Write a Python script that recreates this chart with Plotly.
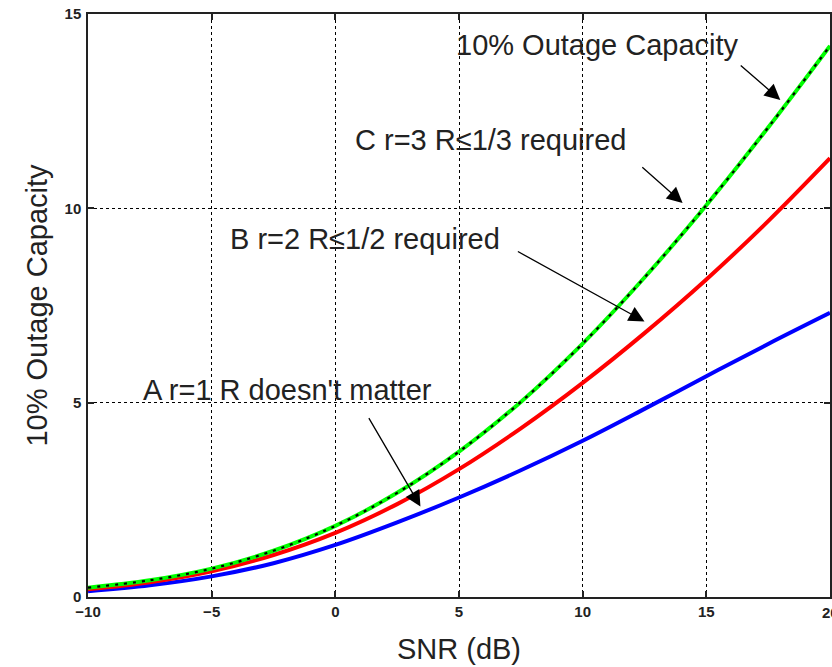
import plotly.graph_objects as go

snr_db = [-10, -7.5, -5, -2.5, 0, 2.5, 5, 7.5, 10, 12.5, 15, 17.5, 20]
cap_r1 = [0.15, 0.30, 0.53, 0.87, 1.34, 1.92, 2.56, 3.26, 4.02, 4.84, 5.68, 6.51, 7.31]
cap_r2 = [0.20, 0.38, 0.66, 1.08, 1.65, 2.39, 3.29, 4.34, 5.51, 6.79, 8.17, 9.67, 11.29]
cap_r3 = [0.24, 0.43, 0.73, 1.19, 1.83, 2.68, 3.74, 5.02, 6.52, 8.22, 10.08, 12.08, 14.18]
outage_10pct = [0.24, 0.43, 0.73, 1.19, 1.83, 2.68, 3.74, 5.02, 6.52, 8.22, 10.08, 12.08, 14.18]

x_ticks = [-10, -5, 0, 5, 10, 15, 20]
y_ticks = [0, 5, 10, 15]

FONT = "Liberation Sans, Arial, Helvetica, sans-serif"
TXT = "#222222"

fig = go.Figure()
fig.add_trace(go.Scatter(x=snr_db, y=cap_r1, mode="lines", line=dict(color="#0000ff", width=4, shape="spline"), name="A"))
fig.add_trace(go.Scatter(x=snr_db, y=cap_r2, mode="lines", line=dict(color="#ff0000", width=4, shape="spline"), name="B"))
fig.add_trace(go.Scatter(x=snr_db, y=cap_r3, mode="lines", line=dict(color="#00ff00", width=4, shape="spline"), name="C"))
fig.add_trace(go.Scatter(x=snr_db, y=outage_10pct, mode="lines", line=dict(color="#000000", width=2.2, dash="3px,6px", shape="spline"), name="10%"))

texts = [
    ("10% Outage Capacity", 10.58, 14.2),
    ("C r=3 R\u22641/3 required", 6.27, 11.76),
    ("B r=2 R\u22641/2 required", 1.18, 9.22),
    ("A r=1 R doesn't matter", -1.95, 5.33),
]
for t, x, y in texts:
    fig.add_annotation(x=x, y=y, xref="x", yref="y", text=t, showarrow=False,
                       font=dict(family=FONT, size=29, color=TXT),
                       xanchor="center", yanchor="middle")

arrows = [
    ((16.33, 13.71), (17.99, 12.79)),
    ((12.35, 11.09), (14.04, 10.14)),
    ((7.32, 8.91), (12.50, 7.09)),
    ((1.32, 4.64), (3.44, 2.33)),
]
for (tx, ty), (hx, hy) in arrows:
    fig.add_annotation(x=hx, y=hy, ax=tx, ay=ty, xref="x", yref="y", axref="x", ayref="y",
                       text="", showarrow=True, arrowhead=2, arrowsize=2.4, arrowwidth=1.3,
                       arrowcolor="#000000", standoff=0)

tickfont = dict(family=FONT, size=15, color=TXT, weight="bold")

# last x tick label (clipped at the right edge, as in the reference)
fig.add_annotation(x=x_ticks[-1], y=0, xref="x", yref="paper", yshift=-5, text=str(x_ticks[-1]),
                   showarrow=False, xanchor="center", yanchor="top", font=tickfont)

axis_common = dict(
    showgrid=True, gridcolor="#000000", gridwidth=1, griddash="dot",
    showline=True, linecolor=TXT, linewidth=1.5, mirror="ticks",
    ticks="inside", ticklen=6, tickwidth=1.5, tickcolor=TXT,
    zeroline=False, tickfont=tickfont,
)

fig.update_xaxes(range=[-10, 20], tickvals=x_ticks,
                 ticktext=[str(v) if v >= 0 else "\u2212" + str(-v) for v in x_ticks],
                 title=dict(text="SNR (dB)", font=dict(family=FONT, size=29, color=TXT), standoff=20),
                 **axis_common)
fig.update_yaxes(range=[0, 15], tickvals=y_ticks, ticklabelstandoff=2,
                 title=dict(text="10% Outage Capacity", font=dict(family=FONT, size=29, color=TXT), standoff=8),
                 **axis_common)

fig.update_layout(
    width=832, height=667,
    margin=dict(l=88, r=0, t=14, b=70),
    paper_bgcolor="white", plot_bgcolor="white",
    showlegend=False,
)

fig.write_html("out.html")
